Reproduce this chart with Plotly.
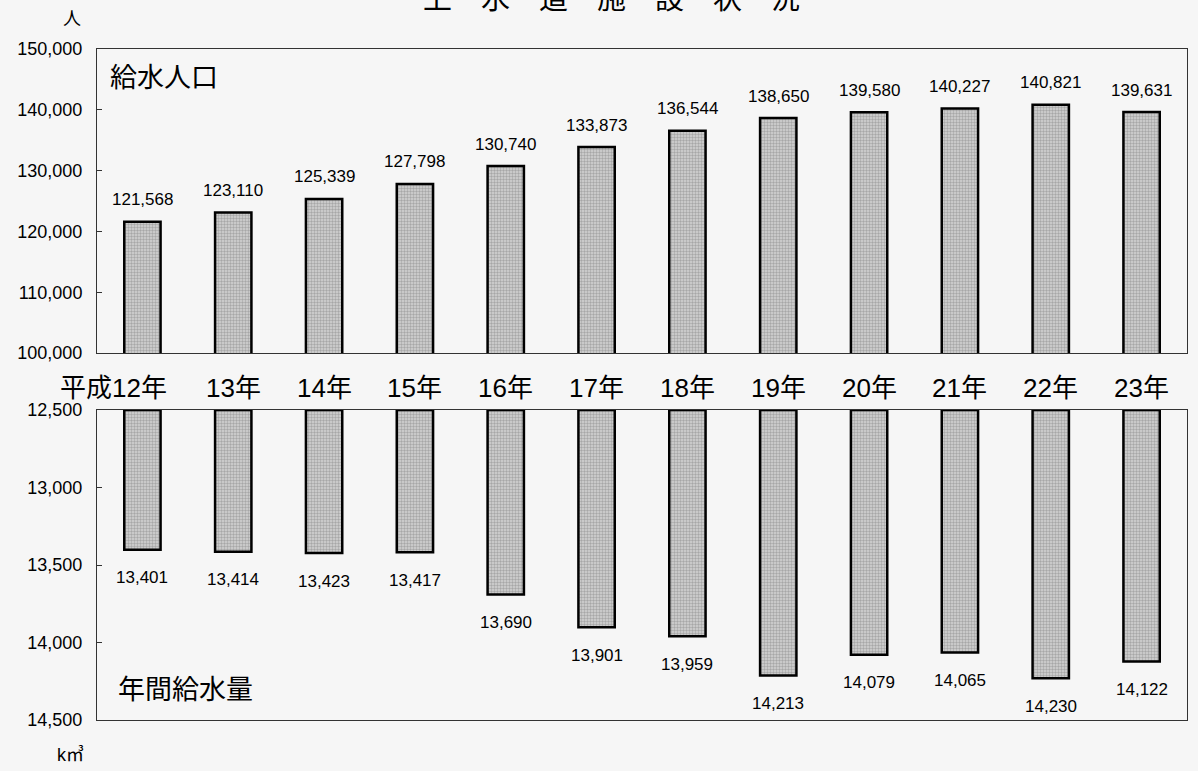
import plotly.graph_objects as go

categories = ["12年", "13年", "14年", "15年", "16年", "17年", "18年", "19年", "20年", "21年", "22年", "23年"]
category_labels = ["平成12年", "13年", "14年", "15年", "16年", "17年", "18年", "19年", "20年", "21年", "22年", "23年"]
population = [121568, 123110, 125339, 127798, 130740, 133873, 136544, 138650, 139580, 140227, 140821, 139631]
water_volume = [13401, 13414, 13423, 13417, 13690, 13901, 13959, 14213, 14079, 14065, 14230, 14122]

pop_ticks = [100000, 110000, 120000, 130000, 140000, 150000]
vol_ticks = [12500, 13000, 13500, 14000, 14500]
vol_base = 12500

title_text = "上　水　道　施　設　状　況"
pop_label = "給水人口"
vol_label = "年間給水量"
pop_unit = "人"
vol_unit = "k㎥"

W, H = 1198, 771
ML, MR, MT, MB = 97, 11, 49, 51
PH = H - MT - MB
PW = W - ML - MR


def py(Y):
    return (H - MB - Y) / PH


def px(X):
    return (X - ML) / PW


FONT = "Liberation Sans, Arial, Noto Sans CJK JP, sans-serif"
bar_marker = dict(
    color="#d0d0d0",
    line=dict(color="black", width=2.5),
    pattern=dict(shape=".", fgcolor="#7a7a7a", bgcolor="#d4d4d4", size=3, solidity=0.5),
)

fig = go.Figure()
fig.add_trace(go.Bar(x=categories, y=population, width=0.4, marker=bar_marker,
                     xaxis="x", yaxis="y", showlegend=False))
fig.add_trace(go.Bar(x=categories, y=[v - vol_base for v in water_volume], base=vol_base,
                     width=0.4, marker=bar_marker, xaxis="x2", yaxis="y2", showlegend=False))


def txt(size):
    return dict(size=size, color="black", family=FONT)


ann = []
for c, v in zip(categories, population):
    ann.append(dict(x=c, y=v, xref="x", yref="y", text=f"{v:,}", showarrow=False,
                    xanchor="center", yanchor="middle", yshift=22, font=txt(17)))
for c, v in zip(categories, water_volume):
    ann.append(dict(x=c, y=v, xref="x2", yref="y2", text=f"{v:,}", showarrow=False,
                    xanchor="center", yanchor="middle", yshift=-28, font=txt(17)))
for i, (c, t) in enumerate(zip(categories, category_labels)):
    if i == 0:
        ann.append(dict(x=c, y=py(388), xref="x", yref="paper", text=t, showarrow=False,
                        xanchor="right", yanchor="middle", xshift=27, font=txt(26)))
    else:
        ann.append(dict(x=c, y=py(388), xref="x", yref="paper", text=t, showarrow=False,
                        xanchor="center", yanchor="middle", font=txt(26)))

ann.append(dict(x=px(164), y=py(78), xref="paper", yref="paper", text=pop_label, showarrow=False,
                xanchor="center", yanchor="middle", font=txt(27)))
ann.append(dict(x=px(185), y=py(690), xref="paper", yref="paper", text=vol_label, showarrow=False,
                xanchor="center", yanchor="middle", font=txt(27)))
ann.append(dict(x=px(72), y=py(19), xref="paper", yref="paper", text=pop_unit, showarrow=False,
                xanchor="center", yanchor="middle", font=txt(18)))
ann.append(dict(x=px(70), y=py(755), xref="paper", yref="paper", text=vol_unit, showarrow=False,
                xanchor="center", yanchor="middle", font=txt(18)))
ann.append(dict(x=px(611), y=py(-1), xref="paper", yref="paper", text=title_text, showarrow=False,
                xanchor="center", yanchor="middle", font=txt(29)))

axis_common = dict(showline=True, linecolor="#333333", linewidth=1, mirror=True, showgrid=False,
                   zeroline=False)

fig.update_layout(
    width=W, height=H,
    margin=dict(l=ML, r=MR, t=MT, b=MB, pad=0),
    paper_bgcolor="#f6f6f6", plot_bgcolor="#f6f6f6",
    font=dict(family=FONT, color="black"),
    xaxis=dict(domain=[0, 1], anchor="y", range=[-0.5, 11.5], showticklabels=False, ticks="",
               **axis_common),
    yaxis=dict(domain=[py(353), 1], anchor="x", range=[100000, 150000], tickvals=pop_ticks,
               tickformat=",d", ticks="inside", ticklen=5, tickcolor="#333333",
               tickfont=txt(18), ticklabelstandoff=10, **axis_common),
    xaxis2=dict(domain=[0, 1], anchor="y2", range=[-0.5, 11.5], showticklabels=False, ticks="",
                **axis_common),
    yaxis2=dict(domain=[0, py(410)], anchor="x2", range=[14500, 12500], tickvals=vol_ticks,
                tickformat=",d", ticks="inside", ticklen=5, tickcolor="#333333",
                tickfont=txt(18), ticklabelstandoff=10, **axis_common),
    annotations=ann,
)

fig.write_html("out.html", config={"displayModeBar": False},
               post_script="document.body.style.margin='0px';document.body.style.overflow='hidden';")
